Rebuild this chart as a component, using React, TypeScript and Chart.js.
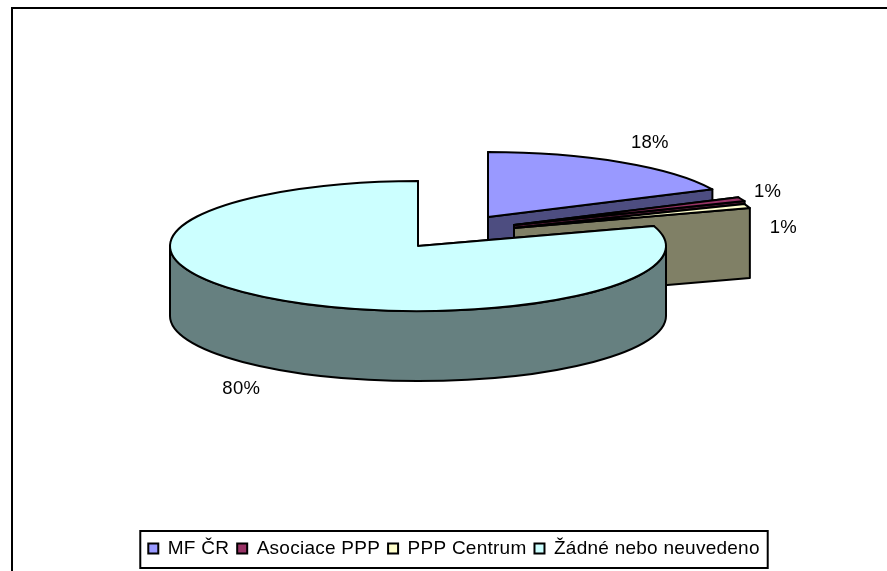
import React, { useEffect, useRef } from "react";
import { Chart, registerables } from "chart.js";

Chart.register(...registerables);

const categories = ["MF ČR", "Asociace PPP", "PPP Centrum", "Žádné nebo neuvedeno"];
const shareValues = [18, 1, 1, 80];
const shareLabels = ["18%", "1%", "1%", "80%"];
const topColors = ["#9999FF", "#993366", "#FFFFCC", "#CCFFFF"];
const wallColors = ["#4D4D80", "#4D1A33", "#808066", "#668080"];

// 3D look of the pie
const PIE_X = 418;
const PIE_Y = 246;
const SQUASH = 0.262;
const DEPTH = 70;
const shiftX = [70, 96, 96, 0];
const shiftY = [-29, -21, -18, 0];
const labelDX = [29, 26, 36, -31];
const labelDY = [-19, -7, 22, 90];

const FONT = "Liberation Sans, Arial, sans-serif";

const pie3d = {
  id: "pie3d",
  beforeUpdate(chart: any) {
    // the canvas state is reset when Chart.js sizes the canvas
    chart.ctx.letterSpacing = "0.25px";
  },
  beforeDraw(chart: any) {
    const { ctx } = chart;
    ctx.save();
    ctx.strokeStyle = "#000";
    ctx.lineWidth = 2;
    ctx.beginPath();
    ctx.moveTo(887, 8);
    ctx.lineTo(12, 8);
    ctx.lineTo(12, 571);
    ctx.stroke();
    ctx.restore();
  },
  beforeDatasetsDraw(chart: any) {
    const { ctx } = chart;
    const arcs = chart.getDatasetMeta(0).data;
    ctx.save();
    ctx.lineWidth = 2;
    ctx.lineJoin = "round";
    ctx.strokeStyle = "#000";
    arcs.forEach((arc: any, i: number) => {
      const ax = PIE_X + shiftX[i];
      const ay = PIE_Y + shiftY[i];
      const R = arc.outerRadius;
      const px = (a: number) => ax + R * Math.cos(a);
      const py = (a: number) => ay + R * SQUASH * Math.sin(a);
      ctx.fillStyle = wallColors[i];
      [arc.startAngle, arc.endAngle].forEach((a: number) => {
        ctx.beginPath();
        ctx.moveTo(ax, ay);
        ctx.lineTo(px(a), py(a));
        ctx.lineTo(px(a), py(a) + DEPTH);
        ctx.lineTo(ax, ay + DEPTH);
        ctx.closePath();
        ctx.fill();
        ctx.stroke();
      });
      const from = Math.max(arc.startAngle, 0);
      const to = Math.min(arc.endAngle, Math.PI);
      if (to > from) {
        ctx.beginPath();
        ctx.ellipse(ax, ay, R, R * SQUASH, 0, from, to);
        ctx.ellipse(ax, ay + DEPTH, R, R * SQUASH, 0, to, from, true);
        ctx.closePath();
        ctx.fill();
        ctx.stroke();
      }
    });
    arcs.forEach((arc: any, i: number) => {
      const ax = PIE_X + shiftX[i];
      const ay = PIE_Y + shiftY[i];
      ctx.save();
      ctx.translate(ax, ay);
      ctx.scale(1, SQUASH);
      ctx.translate(-arc.x, -arc.y);
      arc.draw(ctx);
      ctx.restore();
      ctx.beginPath();
      ctx.moveTo(ax, ay);
      ctx.ellipse(ax, ay, arc.outerRadius, arc.outerRadius * SQUASH, 0, arc.startAngle, arc.endAngle);
      ctx.closePath();
      ctx.stroke();
    });
    ctx.restore();
    return false;
  },
  afterDraw(chart: any) {
    const { ctx, legend } = chart;
    const arcs = chart.getDatasetMeta(0).data;
    ctx.save();
    ctx.fillStyle = "#000";
    ctx.font = `18.5px ${FONT}`;
    ctx.textAlign = "center";
    ctx.textBaseline = "middle";
    arcs.forEach((arc: any, i: number) => {
      const mid = (arc.startAngle + arc.endAngle) / 2;
      const x = PIE_X + shiftX[i] + arc.outerRadius * Math.cos(mid) + labelDX[i];
      const y = PIE_Y + shiftY[i] + arc.outerRadius * SQUASH * Math.sin(mid) + labelDY[i];
      ctx.fillText(shareLabels[i], x, y);
    });
    const boxes = legend.legendHitBoxes;
    const last = boxes[boxes.length - 1];
    ctx.strokeStyle = "#000";
    ctx.lineWidth = 2;
    const left = 142;
    const right = last.left + last.width + 8;
    ctx.strokeRect(Math.min(left, boxes[0].left - 8), legend.top, right - Math.min(left, boxes[0].left - 8), legend.bottom - legend.top);
    ctx.restore();
  },
};

export default function App() {
  const ref = useRef<HTMLCanvasElement | null>(null);
  useEffect(() => {
    const canvas = ref.current!;
    const chart = new Chart(canvas, {
      type: "pie",
      data: {
        labels: categories,
        datasets: [{ data: shareValues, backgroundColor: topColors, borderWidth: 0 }],
      },
      options: {
        responsive: false,
        animation: false,
        radius: 248,
        layout: { padding: { left: 21, right: 0, top: 0, bottom: 3 } },
        plugins: {
          tooltip: { enabled: false },
          legend: {
            position: "bottom",
            labels: {
              color: "#000",
              boxWidth: 10,
              boxHeight: 10,
              padding: 8,
              font: { family: FONT, size: 19 },
              generateLabels(c: any) {
                return (Chart as any).overrides.doughnut.plugins.legend.labels
                  .generateLabels(c)
                  .map((it: any) => ({ ...it, strokeStyle: "#000", lineWidth: 2 }));
              },
            },
          },
        },
      },
      plugins: [pie3d],
    } as any);
    return () => chart.destroy();
  }, []);
  return (
    <canvas
      ref={ref}
      width={887}
      height={571}
      style={{ position: "fixed", left: 0, top: 0, display: "block" }}
    />
  );
}
